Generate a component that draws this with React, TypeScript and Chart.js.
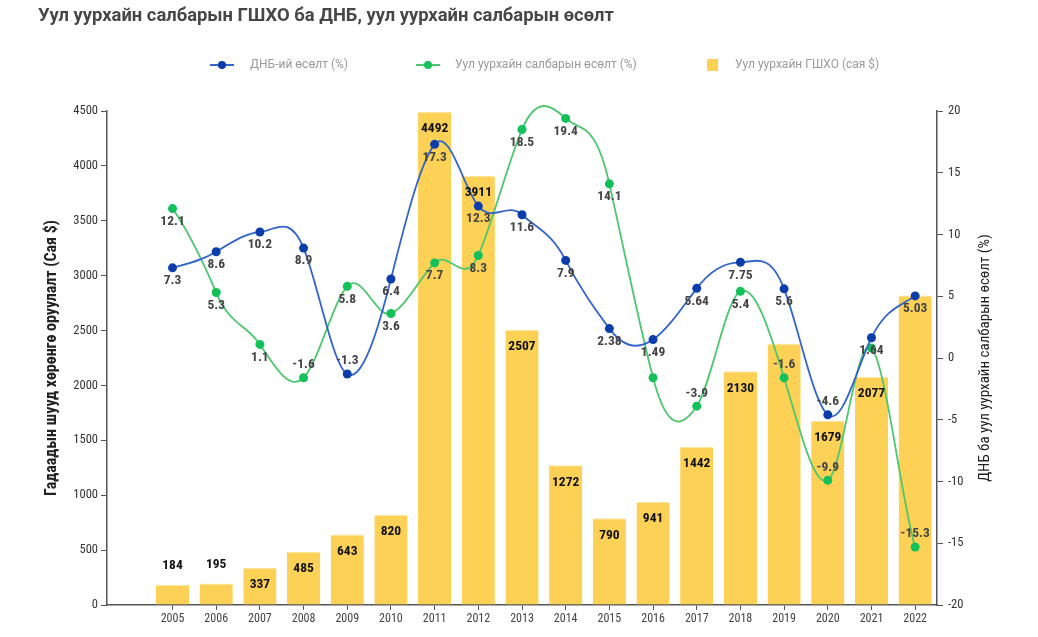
import React, { useEffect, useRef } from 'react';
import { Chart, registerables } from 'chart.js';

Chart.register(...registerables);

const chartTitle = 'Уул уурхайн салбарын ГШХО ба ДНБ, уул уурхайн салбарын өсөлт';
const leftAxisTitle = 'Гадаадын шууд хөрөнгө оруулалт (Сая $)';
const rightAxisTitle = 'ДНБ ба уул уурхайн салбарын өсөлт (%)';
const gdpLabel = 'ДНБ-ий өсөлт (%)';
const miningLabel = 'Уул уурхайн салбарын өсөлт (%)';
const fdiLabel = 'Уул уурхайн ГШХО (сая $)';

const years = ['2005', '2006', '2007', '2008', '2009', '2010', '2011', '2012', '2013', '2014', '2015', '2016', '2017', '2018', '2019', '2020', '2021', '2022'];
const fdiValues = [184, 195, 337, 485, 643, 820, 4492, 3911, 2507, 1272, 790, 941, 1442, 2130, 2380, 1679, 2077, 2820];
const gdpGrowth = [7.3, 8.6, 10.2, 8.9, -1.3, 6.4, 17.3, 12.3, 11.6, 7.9, 2.38, 1.49, 5.64, 7.75, 5.6, -4.6, 1.64, 5.03];
const miningGrowth = [12.1, 5.3, 1.1, -1.6, 5.8, 3.6, 7.7, 8.3, 18.5, 19.4, 14.1, -1.6, -3.9, 5.4, -1.6, -9.9, 0.8, -15.3];

const BLUE_LINE = '#3465C8';
const BLUE_PT = '#0B3DAB';
const GREEN_LINE = '#4CC76E';
const GREEN_PT = '#14C05A';
const BAR = '#FDD155';
const AXIS = '#555555';

const COND = '"Liberation Sans Narrow", "Roboto Condensed", "DejaVu Sans Condensed", Roboto, sans-serif';
const ROBOTO = 'Roboto, "Liberation Sans", sans-serif';

const SPLINE_K = 0.75;

// Cardinal-spline control points (computed from the points' scale positions)
const splinePlugin = {
  id: 'cardinalSpline',
  beforeDatasetDraw(chart: any, args: any) {
    const meta = args.meta;
    if (meta.type !== 'line') return;
    const pts = meta.data.filter((p: any) => !p.skip && Number.isFinite(p.x) && Number.isFinite(p.y));
    const n = pts.length;
    if (n < 2) return;
    for (let i = 0; i < n; i++) {
      const p = pts[i];
      const prev = pts[Math.max(0, i - 1)];
      const next = pts[Math.min(n - 1, i + 1)];
      const dx = i > 0 ? p.x - prev.x : next.x - p.x;
      const my = SPLINE_K * (next.y - prev.y);
      p.cp1x = p.x - dx / 3;
      p.cp1y = p.y - my / 3;
      p.cp2x = p.x + dx / 3;
      p.cp2y = p.y + my / 3;
    }
    meta.dataset._pointsUpdated = true;
    meta.dataset._path = undefined;
  },
};

const labelPlugin = {
  id: 'valueLabels',
  afterDatasetsDraw(chart: any) {
    const ctx = chart.ctx;
    const boxes: any[] = [];
    const overlaps = (b: any) => boxes.some((o) => b.x1 < o.x2 && b.x2 > o.x1 && b.y1 < o.y2 && b.y2 > o.y1);
    const place = (text: string, x: number, y: number, font: string, color: string) => {
      ctx.save();
      ctx.font = font;
      const w = ctx.measureText(text).width;
      const h = 13;
      const pad = 1.5;
      const b = { x1: x - w / 2 - pad, x2: x + w / 2 + pad, y1: y - h / 2 - pad, y2: y + h / 2 + pad };
      if (!overlaps(b)) {
        boxes.push(b);
        ctx.fillStyle = color;
        ctx.textAlign = 'center';
        ctx.textBaseline = 'middle';
        ctx.fillText(text, x, y);
      }
      ctx.restore();
    };
    const lineFont = `bold 13.5px ${COND}`;
    [0, 1].forEach((di) => {
      const meta = chart.getDatasetMeta(di);
      const data = chart.data.datasets[di].data;
      meta.data.forEach((el: any, i: number) => {
        const v = data[i];
        if (v == null) return;
        const y = v >= 0 ? el.y + 13 : el.y - 13;
        place(String(v), el.x, y, lineFont, '#444444');
      });
    });
    const barMeta = chart.getDatasetMeta(2);
    const barData = chart.data.datasets[2].data;
    barMeta.data.forEach((el: any, i: number) => {
      const v = barData[i];
      if (v == null) return;
      const height = el.base - el.y;
      const y = height >= 30 ? el.y + 17 : el.y - 19;
      place(String(v), el.x, y, lineFont, '#111111');
    });
  },
};

const decorPlugin = {
  id: 'decor',
  afterDraw(chart: any) {
    const ctx = chart.ctx;
    const area = chart.chartArea;
    ctx.save();
    // title
    ctx.font = `bold 18.4px ${ROBOTO}`;
    ctx.fillStyle = '#474747';
    ctx.textAlign = 'left';
    ctx.textBaseline = 'middle';
    ctx.fillText(chartTitle, 38, 16);

    // legend
    const ly = 65;
    ctx.font = `12px ${ROBOTO}`;
    const drawLineMarker = (cx: number, line: string, pt: string) => {
      ctx.strokeStyle = line;
      ctx.lineWidth = 2;
      ctx.beginPath();
      ctx.moveTo(cx - 12, ly);
      ctx.lineTo(cx + 12, ly);
      ctx.stroke();
      ctx.fillStyle = pt;
      ctx.beginPath();
      ctx.arc(cx, ly, 4, 0, Math.PI * 2);
      ctx.fill();
    };
    drawLineMarker(222, BLUE_LINE, BLUE_PT);
    ctx.fillStyle = '#9a9a9a';
    ctx.fillText(gdpLabel, 250, ly);
    drawLineMarker(428, GREEN_LINE, GREEN_PT);
    ctx.fillStyle = '#9a9a9a';
    ctx.fillText(miningLabel, 455, ly);
    ctx.fillStyle = BAR;
    ctx.fillRect(707, ly - 6, 11, 12);
    ctx.fillStyle = '#9a9a9a';
    ctx.fillText(fdiLabel, 735, ly);

    // axis titles
    const cy = (area.top + area.bottom) / 2;
    ctx.fillStyle = '#222222';
    ctx.textAlign = 'center';
    ctx.save();
    ctx.translate(52, cy);
    ctx.rotate(-Math.PI / 2);
    ctx.font = `bold 16px ${COND}`;
    ctx.fillText(leftAxisTitle, 0, 0);
    ctx.restore();
    ctx.save();
    ctx.translate(985, cy);
    ctx.rotate(-Math.PI / 2);
    ctx.font = `15px ${COND}`;
    ctx.fillText(rightAxisTitle, 0, 0);
    ctx.restore();
    ctx.restore();
  },
};

export default function App() {
  const canvasRef = useRef<HTMLCanvasElement | null>(null);

  useEffect(() => {
    if (!canvasRef.current) return;
    const labels = [''].concat(years);
    const lineClip = { left: 5, top: 6, right: 5, bottom: 5 };
    const chart = new Chart(canvasRef.current, {
      type: 'bar',
      data: {
        labels,
        datasets: [
          {
            type: 'line',
            label: gdpLabel,
            data: [null, ...gdpGrowth],
            yAxisID: 'y1',
            borderColor: BLUE_LINE,
            backgroundColor: BLUE_PT,
            pointBackgroundColor: BLUE_PT,
            pointBorderWidth: 0,
            pointRadius: 4.5,
            borderWidth: 1.8,
            tension: 0.4,
            clip: lineClip,
            order: 0,
          } as any,
          {
            type: 'line',
            label: miningLabel,
            data: [null, ...miningGrowth],
            yAxisID: 'y1',
            borderColor: GREEN_LINE,
            backgroundColor: GREEN_PT,
            pointBackgroundColor: GREEN_PT,
            pointBorderWidth: 0,
            pointRadius: 4.5,
            borderWidth: 1.8,
            tension: 0.4,
            clip: lineClip,
            order: 1,
          } as any,
          {
            type: 'bar',
            label: fdiLabel,
            data: [null, ...fdiValues],
            yAxisID: 'y',
            backgroundColor: BAR,
            borderColor: '#FFE7A3',
            borderWidth: { top: 1, left: 0, right: 0, bottom: 0 },
            borderSkipped: 'bottom',
            barPercentage: 0.76,
            categoryPercentage: 1,
            order: 2,
          } as any,
        ],
      },
      options: {
        responsive: false,
        animation: false,
        devicePixelRatio: 1,
        layout: { padding: { top: 111, left: 0, right: 0, bottom: 0 } },
        plugins: {
          legend: { display: false },
          title: { display: false },
          tooltip: { enabled: false },
        },
        scales: {
          x: {
            type: 'category',
            offset: true,
            grid: {
              display: true,
              drawOnChartArea: false,
              drawTicks: true,
              tickLength: 5,
              offset: false,
              color: (c: any) => (c.index === 0 ? 'rgba(0,0,0,0)' : AXIS),
            },
            border: { display: true, color: AXIS, width: 1.5 },
            ticks: {
              font: { family: COND, size: 12 },
              color: '#444444',
              padding: 2,
              maxRotation: 0,
              autoSkip: false,
            },
            afterFit: (s: any) => {
              s.height = 32;
            },
          },
          y: {
            type: 'linear',
            position: 'left',
            min: 0,
            max: 4500,
            ticks: {
              stepSize: 500,
              font: { family: COND, size: 12.5 },
              color: '#333333',
              padding: 3,
              callback: (v: any) => String(v),
            },
            grid: { drawOnChartArea: false, drawTicks: true, tickLength: 6, color: AXIS },
            border: { display: true, color: AXIS, width: 1.5 },
            afterFit: (s: any) => {
              s.width = 107;
            },
          },
          y1: {
            type: 'linear',
            position: 'right',
            min: -20,
            max: 20,
            ticks: {
              stepSize: 5,
              font: { family: COND, size: 12.5 },
              color: '#333333',
              padding: 5,
              callback: (v: any) => String(v),
            },
            grid: { drawOnChartArea: false, drawTicks: true, tickLength: 6, color: AXIS },
            border: { display: true, color: AXIS, width: 1.5 },
            afterFit: (s: any) => {
              s.width = 101;
            },
          },
        },
      } as any,
      plugins: [splinePlugin, labelPlugin, decorPlugin],
    });
    return () => chart.destroy();
  }, []);

  return (
    <div style={{ position: 'fixed', left: 0, top: 0, width: 1038, height: 637, background: '#ffffff' }}>
      <canvas ref={canvasRef} width={1038} height={637} style={{ display: 'block' }} />
    </div>
  );
}
